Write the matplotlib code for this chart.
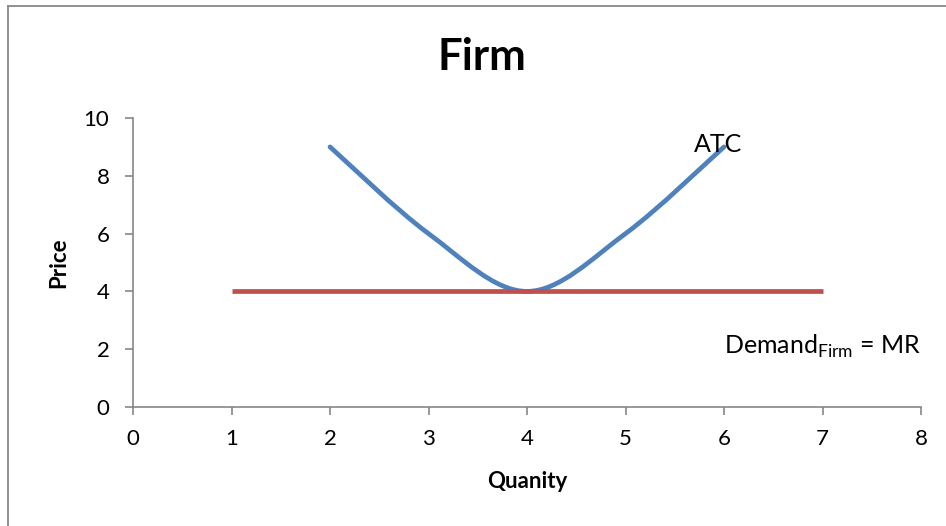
import numpy as np
import matplotlib.pyplot as plt
from matplotlib.path import Path
from matplotlib.patches import PathPatch
from matplotlib.lines import Line2D

plt.rcParams['font.family'] = ['Lato', 'DejaVu Sans']
plt.rcParams['mathtext.fontset'] = 'custom'
plt.rcParams['mathtext.rm'] = 'Lato'

# ATC curve points and the flat demand (= MR) line
atc_q = [2, 3, 4, 5, 6]
atc_p = [9, 6, 4, 6, 9]
mr_q = [1, 2, 3, 4, 5, 6, 7]
mr_p = [4, 4, 4, 4, 4, 4, 4]

x_ticks = [0, 1, 2, 3, 4, 5, 6, 7, 8]
y_ticks = [0, 2, 4, 6, 8, 10]

BLUE = '#4f81bd'
RED = '#c0504d'
GRAY = '#868686'


def smooth_path(xs, ys):
    # cubic bezier through the points, spreadsheet-style smoothing
    pts = np.column_stack([xs, ys]).astype(float)
    n = len(pts)
    verts = [pts[0]]
    codes = [Path.MOVETO]
    for i in range(n - 1):
        p0 = pts[max(i - 1, 0)]
        p1 = pts[i]
        p2 = pts[i + 1]
        p3 = pts[min(i + 2, n - 1)]
        c1 = p1 + (p2 - p0) / 6
        c2 = p2 - (p3 - p1) / 6
        verts += [c1, c2, p2]
        codes += [Path.CURVE4] * 3
    return Path(verts, codes)


fig = plt.figure(figsize=(9.46, 5.26), dpi=100)
ax = fig.add_axes([133 / 946, 1 - 407 / 526, (921 - 133) / 946, (407 - 118) / 526])

ax.plot(mr_q, mr_p, color=RED, lw=3.4, solid_capstyle='butt')
ax.add_patch(PathPatch(smooth_path(atc_q, atc_p), fill=False, edgecolor=BLUE,
                       lw=3.4, capstyle='round'))

ax.set_xlim(0, 8)
ax.set_ylim(0, 10)
ax.set_xticks(x_ticks)
ax.set_yticks(y_ticks)
ax.tick_params(labelsize=16, color=GRAY, length=6, width=1.2)
ax.tick_params(axis='x', pad=10)
ax.tick_params(axis='y', pad=11)
for s in ['top', 'right']:
    ax.spines[s].set_visible(False)
for s in ['left', 'bottom']:
    ax.spines[s].set_color(GRAY)
    ax.spines[s].set_linewidth(1.2)

ax.set_xlabel('Quanity', fontsize=16, fontweight='bold')
ax.set_ylabel('Price', fontsize=16, fontweight='bold')
ax.xaxis.set_label_coords(527 / 946 * 946 / 788 - 133 / 788, -(482 - 407) / 289)
ax.yaxis.set_label_coords(-(133 - 59) / 788, (407 - 263) / 289)
ax.xaxis.label.set_va('center')
ax.yaxis.label.set_va('center')

ax.text(5.94, 9.07, 'ATC', fontsize=18, ha='center', va='center')
ax.text(6.0, 2.08, r'Demand$_{\mathrm{Firm}}$ = MR', fontsize=18, ha='left', va='center')

fig.text(482 / 946, 1 - 57 / 526, 'Firm', fontsize=31.5, fontweight='bold',
         ha='center', va='center')

# chart frame
fig.add_artist(Line2D([8 / 946, 8 / 946], [0, 1 - 6 / 526], color='#888888', lw=1.3))
fig.add_artist(Line2D([8 / 946, 1], [1 - 6 / 526, 1 - 6 / 526], color='#888888', lw=1.3))

fig.savefig('out.png', dpi=100)
